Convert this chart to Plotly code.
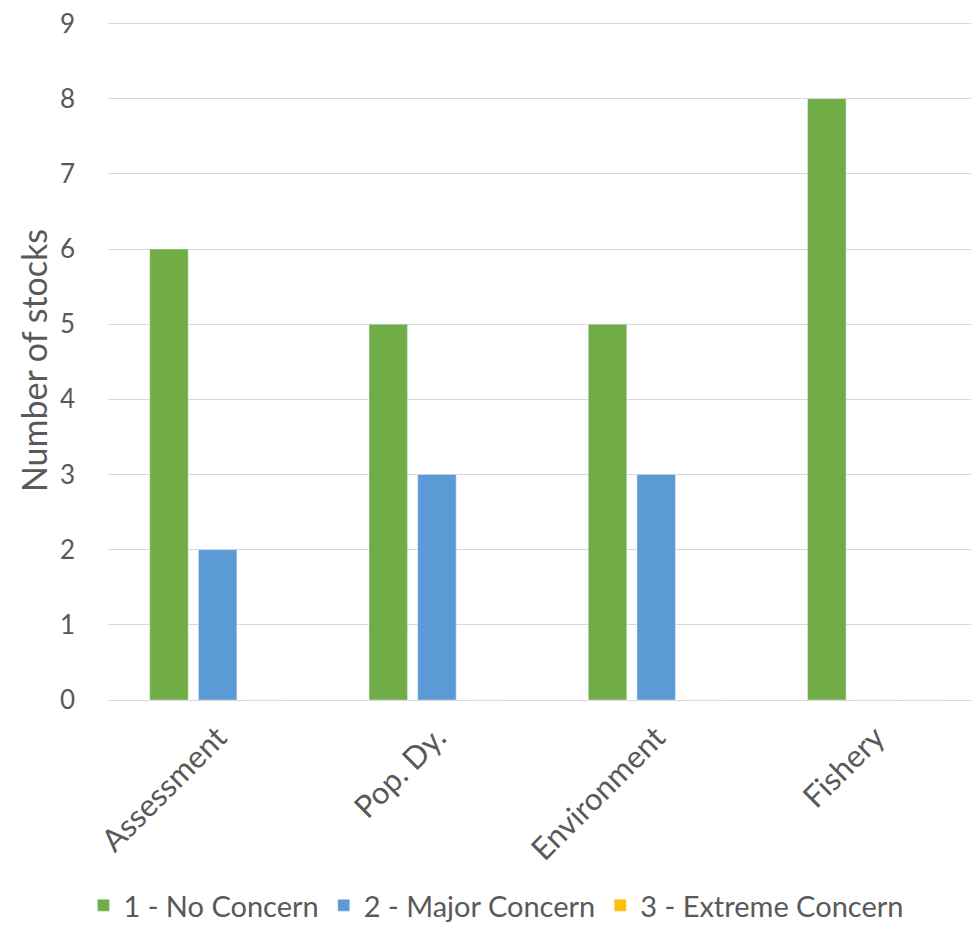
import plotly.graph_objects as go

categories = ["Assessment", "Pop. Dy.", "Environment", "Fishery"]
no_concern = [6, 5, 5, 8]
major_concern = [2, 3, 3, 0]
extreme_concern = [0, 0, 0, 0]
y_ticks = [0, 1, 2, 3, 4, 5, 6, 7, 8, 9]
y_title = "Number of stocks"

FONT = "Lato"
GRAY = "#595959"

fig = go.Figure()
fig.add_trace(go.Bar(x=categories, y=no_concern, name="1 - No Concern", marker_color="#70AD47"))
fig.add_trace(go.Bar(x=categories, y=major_concern, name="2 - Major Concern", marker_color="#5B9BD5"))
fig.add_trace(go.Bar(x=categories, y=extreme_concern, name="3 - Extreme Concern", marker_color="#FFC000"))

fig.update_layout(
    width=971, height=917,
    margin=dict(l=100, r=0, t=14, b=225, autoexpand=False),
    paper_bgcolor="white", plot_bgcolor="white",
    barmode="group", bargap=0.334, bargroupgap=0.21,
    font=dict(family=FONT, color=GRAY),
    showlegend=True,
    legend=dict(orientation="h", xref="container", yref="paper",
                x=0.503, y=-0.303, xanchor="center", yanchor="middle",
                font=dict(size=29, color=GRAY), itemwidth=30, traceorder="normal"),
)
fig.add_annotation(text=y_title, xref="paper", yref="paper", x=-0.086, y=0.5,
                   xanchor="center", yanchor="middle", textangle=-90, showarrow=False,
                   font=dict(size=34, color=GRAY, family=FONT))
fig.update_yaxes(range=[0, 9.02], tickvals=y_ticks, showgrid=True, gridcolor="#d9d9d9", gridwidth=1,
                 zeroline=False, showline=False, tickfont=dict(size=26, color=GRAY),
                 ticklabelstandoff=32, ticklabeloverflow="allow")
fig.update_xaxes(range=[-0.5, 3.472], showline=True, linecolor="#d9d9d9", linewidth=1, tickangle=-45,
                 tickfont=dict(size=31, color=GRAY), ticks="", ticklabelstandoff=6)

fig.write_html("out.html")
